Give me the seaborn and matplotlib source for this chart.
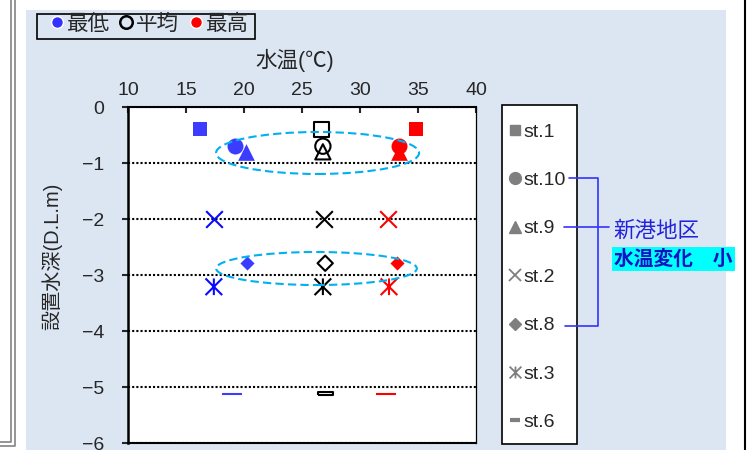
import numpy as np
import pandas as pd
import matplotlib
matplotlib.use("Agg")
import matplotlib.pyplot as plt
from matplotlib.path import Path
from matplotlib.patches import Ellipse, Rectangle
from matplotlib.lines import Line2D
import seaborn as sns

# ---- data -------------------------------------------------------------
stations = ["st.1", "st.10", "st.9", "st.2", "st.8", "st.3", "st.6"]
depth = [-0.40, -0.70, -0.80, -2.00, -2.79, -3.21, -5.12]
temp_min = [16.2, 19.2, 20.2, 17.4, 20.3, 17.4, 19.0]
temp_mean = [26.7, 26.8, 26.8, 26.9, 27.0, 26.8, 27.0]
temp_max = [34.8, 33.4, 33.4, 32.4, 33.2, 32.5, 32.2]
stat_labels = ["最低", "平均", "最高"]
x_ticks = [10, 15, 20, 25, 30, 35, 40]
y_ticks = [0, -1, -2, -3, -4, -5, -6]
group_label = "新港地区"
group_note = "水温変化　小"

df = pd.DataFrame({
    "station": stations * 3,
    "depth": depth * 3,
    "temp": temp_min + temp_mean + temp_max,
    "stat": np.repeat(stat_labels, len(stations)),
})

# ---- styling ----------------------------------------------------------
sns.set_style("ticks")
plt.rcParams["font.family"] = ["Liberation Sans", "Noto Sans CJK JP"]
plt.rcParams["axes.unicode_minus"] = True

W, H = 753, 450


def fx(px):
    return px / W


def fy(py):
    return 1 - py / H


ASTERISK = Path([(0, -1), (0, 1), (-1, -1), (1, 1), (-1, 1), (1, -1)],
                [Path.MOVETO, Path.LINETO, Path.MOVETO, Path.LINETO,
                 Path.MOVETO, Path.LINETO])
BAR = [(-1, -0.2), (1, -0.2), (1, 0.2), (-1, 0.2), (-1, -0.2)]

BLUE = "#3C3CFF"
BLUE_LINE = "#0A0AFF"
RED = "#FF0000"
GRAY = "#7F7F7F"

# marker, size of coloured marker (pt), size of mean marker (pt)
marker_style = {
    "st.1": ("s", 10.0, 10.5),
    "st.10": ("o", 11.5, 11.0),
    "st.9": ("^", 12.0, 11.0),
    "st.2": ("x", 12.0, 12.0),
    "st.8": ("D", 7.2, 7.8),
    "st.3": (ASTERISK, 12.0, 12.0),
    "st.6": ("_", 14.5, 11.0),
}
draw_order = ["st.1", "st.9", "st.10", "st.2", "st.8", "st.3", "st.6"]

fig = plt.figure(figsize=(W / 100, H / 100), dpi=100)
fig.patch.set_facecolor("white")
fig.add_artist(Rectangle((fx(26), 0), fx(726) - fx(26), fy(10),
                         transform=fig.transFigure, facecolor="#DCE6F2",
                         edgecolor="none", zorder=0))

ax = fig.add_axes([fx(128), fy(443), fx(476) - fx(128), fy(107) - fy(443)])
ax.set_facecolor("white")


def scatter_kws(marker, size, stat):
    kws = dict(marker=marker, s=size ** 2, zorder=3, legend=False)
    if stat == "平均":
        if marker == "x":
            kws.update(color="black", linewidth=1.5)
        elif marker == "_":
            kws.update(marker=BAR, color="black", facecolor="none",
                       edgecolor="black", linewidth=1.5)
        else:
            kws.update(color="black", facecolor="none", edgecolor="black",
                       linewidth=1.5)
        return kws
    fill = BLUE if stat == "最低" else RED
    line = BLUE_LINE if stat == "最低" else RED
    if marker in ("x", "_"):
        kws.update(color=line if marker == "x" else fill, linewidth=1.5)
    elif marker is ASTERISK:
        kws.update(color=line, facecolor="none", edgecolor=line,
                   linewidth=1.5)
    else:
        kws.update(color=fill, edgecolor=fill, linewidth=0)
    return kws


for st in draw_order:
    marker, s_col, s_mean = marker_style[st]
    for stat in stat_labels:
        sub = df[(df["station"] == st) & (df["stat"] == stat)]
        size = s_mean if stat == "平均" else s_col
        sns.scatterplot(data=sub, x="temp", y="depth", ax=ax,
                        **scatter_kws(marker, size, stat))

# dashed ellipses around the grouped stations
for (cx, cy, w, h) in [(26.34, -0.821, 17.5, 0.75), (26.25, -2.884, 17.3, 0.59)]:
    ax.add_patch(Ellipse((cx, cy), w, h, fill=False, edgecolor="#00B0F0",
                         linewidth=1.5, linestyle=(0, (4, 2)), zorder=5))

# ---- axes -------------------------------------------------------------
ax.set_xlim(10, 40)
ax.set_ylim(-6, 0)
ax.set_xticks(x_ticks)
ax.set_yticks(y_ticks)
ax.xaxis.tick_top()
ax.xaxis.set_label_position("top")
ax.tick_params(axis="x", direction="in", length=4, width=1.5, pad=6,
               labelsize=14, top=True, bottom=False)
ax.tick_params(axis="y", direction="out", length=4, width=1.5, pad=13,
               labelsize=14)
ax.grid(axis="y", color="black", linestyle=(0, (1, 1)), linewidth=1.5)
ax.grid(axis="x", visible=False)
ax.set_axisbelow(True)
for side, lw in [("left", 1.8), ("top", 1.5), ("bottom", 1.5), ("right", 0.9)]:
    ax.spines[side].set_visible(True)
    ax.spines[side].set_linewidth(lw)
    ax.spines[side].set_color("black")

ax.set_xlabel("水温(℃)", fontsize=15.5)
ax.set_ylabel("設置水深(D.L.m)", fontsize=14.5)
ax.xaxis.set_label_coords(0.48, 1.12)
ax.yaxis.set_label_coords(-0.19, 0.556)

# ---- statistic legend (top left) -------------------------------------
fig.add_artist(Rectangle((fx(37), fy(39)), fx(255) - fx(37), fy(14) - fy(39),
                         transform=fig.transFigure, facecolor="none",
                         edgecolor="black", linewidth=1.2, zorder=1))
stat_handles = [
    Line2D([], [], marker="o", linestyle="none", markersize=8.5,
           markerfacecolor="#3333FF", markeredgecolor="white", markeredgewidth=1),
    Line2D([], [], marker="o", linestyle="none", markersize=9,
           markerfacecolor="none", markeredgecolor="black", markeredgewidth=1.8),
    Line2D([], [], marker="o", linestyle="none", markersize=8.5,
           markerfacecolor=RED, markeredgecolor="white", markeredgewidth=1),
]
leg1 = fig.legend(stat_handles, stat_labels, loc="upper left",
                  bbox_to_anchor=(fx(50.5), fy(14)), ncol=3, fontsize=15.5,
                  frameon=False, handlelength=0.6, handletextpad=0.16,
                  columnspacing=0.47, borderpad=0, borderaxespad=0)

# ---- station legend (right) ------------------------------------------
fig.add_artist(Rectangle((fx(502), fy(444)), fx(577) - fx(502), fy(105) - fy(444),
                         transform=fig.transFigure, facecolor="white",
                         edgecolor="black", linewidth=1.2, zorder=1))
station_handles = [
    Line2D([], [], marker="s", ls="none", ms=7, color=GRAY),
    Line2D([], [], marker="o", ls="none", ms=8.5, color=GRAY),
    Line2D([], [], marker="^", ls="none", ms=9, color=GRAY),
    Line2D([], [], marker="x", ls="none", ms=8, mew=1.3, color=GRAY),
    Line2D([], [], marker="D", ls="none", ms=6, color=GRAY),
    Line2D([], [], marker=ASTERISK, ls="none", ms=8.5, mew=1.3, color=GRAY),
    Line2D([], [], marker="_", ls="none", ms=7, mew=3, color=GRAY),
]
leg2 = fig.legend(station_handles, stations, loc="upper left",
                  bbox_to_anchor=(fx(509), fy(123)), ncol=1, fontsize=14,
                  frameon=False, handlelength=0.6, handletextpad=0.15,
                  labelspacing=1.585, borderpad=0, borderaxespad=0)
leg2.set_zorder(2)

# ---- bracket and annotation ------------------------------------------
bracket = "#3333FF"
for xs, ys in [([569, 598, 598, 565], [178, 178, 326, 326]),
               ([564, 609], [227, 227])]:
    fig.add_artist(Line2D([fx(v) for v in xs], [fy(v) for v in ys],
                          transform=fig.transFigure, color=bracket, lw=1.2,
                          zorder=3))
fig.text(fx(613), fy(231), group_label, fontsize=15.5, color="#2222DD",
         ha="left", va="center", family=["Noto Sans CJK JP"])
fig.text(fx(614), fy(259), group_note, fontsize=14.2, color="#1212C0",
         fontweight="bold", ha="left", va="center", family=["Noto Sans CJK JP"],
         bbox=dict(facecolor="#00FFFF", edgecolor="none", pad=1.6))

# ---- page frame lines -------------------------------------------------
for xs, ys in [([0, 11, 11], [442, 442, 0]), ([0, 15, 15], [446, 446, 0])]:
    fig.add_artist(Line2D([fx(v) for v in xs], [fy(v) for v in ys],
                          transform=fig.transFigure, color="#8C8C8C", lw=1.3))
fig.add_artist(Line2D([fx(745), fx(745)], [0, 1], transform=fig.transFigure,
                      color="black", lw=1.5))

fig.savefig("out.png", dpi=100)
